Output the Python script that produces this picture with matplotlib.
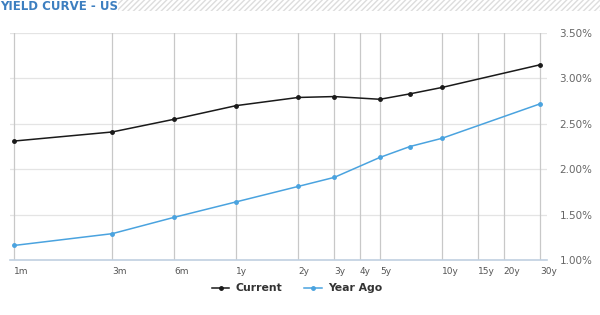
import matplotlib
matplotlib.use('Agg')
import matplotlib.pyplot as plt
from matplotlib.patches import Rectangle

# maturities in months (x axis is log scaled)
tick_months = [1, 3, 6, 12, 24, 36, 48, 60, 120, 180, 240, 360]
tick_labels = ['1m', '3m', '6m', '1y', '2y', '3y', '4y', '5y', '10y', '15y', '20y', '30y']

point_months = [1, 3, 6, 12, 24, 36, 60, 84, 120, 360]
current = [2.31, 2.41, 2.55, 2.70, 2.79, 2.80, 2.77, 2.83, 2.90, 3.15]
year_ago = [1.16, 1.29, 1.47, 1.64, 1.81, 1.91, 2.13, 2.25, 2.34, 2.72]

y_ticks = [1.0, 1.5, 2.0, 2.5, 3.0, 3.5]

plt.rcParams['font.family'] = ['DejaVu Sans']

fig = plt.figure(figsize=(6, 3.15), dpi=100)
ax = fig.add_axes([10 / 600, 1 - 260 / 315, 537 / 600, 227 / 315])

ax.plot(point_months, current, color='#1a1a1a', lw=1.1, marker='o', ms=2.5, label='Current', zorder=3)
ax.plot(point_months, year_ago, color='#4aa3df', lw=1.1, marker='o', ms=2.5, label='Year Ago', zorder=3)

ax.set_xscale('log')
ax.set_xlim(0.956, 389)
ax.set_ylim(1.0, 3.5)
ax.minorticks_off()
ax.set_xticks(tick_months)
ax.set_xticklabels(tick_labels, ha='left')
ax.set_yticks(y_ticks)
ax.set_yticklabels(['%.2f%%' % v for v in y_ticks])
ax.yaxis.tick_right()
ax.tick_params(axis='x', length=0, pad=5, labelsize=6.5, labelcolor='#555555')
ax.tick_params(axis='y', length=0, pad=9, labelsize=7.5, labelcolor='#666666')

for m in tick_months:
    ax.axvline(m, color='#c8c8c8', lw=0.9, zorder=1)
for v in y_ticks[1:]:
    ax.axhline(v, color='#e4e4e4', lw=0.9, zorder=0)

for s in ['top', 'left', 'right']:
    ax.spines[s].set_visible(False)
ax.spines['bottom'].set_color('#c0d0e0')
ax.spines['bottom'].set_linewidth(1.2)

ax.legend(loc='upper center', bbox_to_anchor=(0.535, -0.06), ncol=2, frameon=False,
          prop={'weight': 'bold', 'size': 7.8}, labelcolor='#333333',
          handlelength=1.6, columnspacing=2.0, handletextpad=0.6)

# title bar
fig.text(0.001, 1 - 10 / 315, 'YIELD CURVE - US', color='#3d7fc0', fontsize=8.5,
         fontweight='bold', va='baseline', ha='left')
fig.patches.append(Rectangle((118 / 600, 1 - 11 / 315), 482 / 600, 11 / 315,
                             transform=fig.transFigure, facecolor='white',
                             edgecolor='#dddddd', hatch='//////', lw=0))

fig.savefig('out.png', dpi=100)
